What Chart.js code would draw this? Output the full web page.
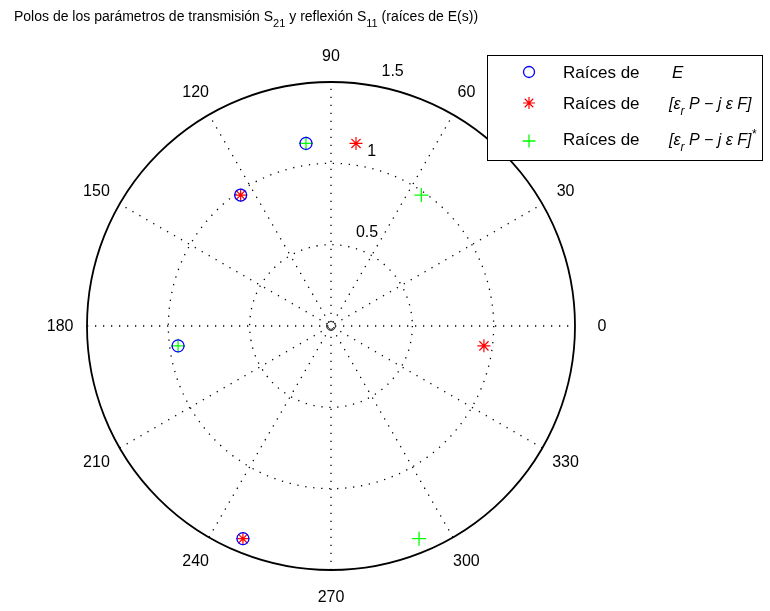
<!DOCTYPE html>
<html>
<head>
<meta charset="utf-8">
<script src="https://cdn.jsdelivr.net/npm/chart.js@4/dist/chart.umd.min.js"></script>
<style>
  html, body { margin: 0; padding: 0; background: #ffffff; }
  #wrap { width: 770px; height: 611px; }
</style>
</head>
<body>
<div id="wrap"><canvas id="c" width="770" height="611"></canvas></div>
<script>
// Roots in polar form: modulus and angle in degrees
const rootsE_mod   = [1.133, 0.978, 0.948, 1.415];
const rootsE_ang   = [97.8, 124.6, 187.4, 247.5];
const rootsPF_mod  = [1.133, 0.978, 0.948, 1.415];
const rootsPF_ang  = [82.2, 124.6, 352.6, 247.5];
const rootsPFc_mod = [1.133, 0.978, 0.948, 1.415];
const rootsPFc_ang = [97.8, 55.4, 187.4, 292.5];
const origin_mod   = [0];
const origin_ang   = [0];

// Polar grid
const rMax = 1.5;
const ringValues = [0.5, 1, 1.5];
const ringLabels = ['0.5', '1', '1.5'];
const spokeAngles = [0, 30, 60, 90, 120, 150, 180, 210, 240, 270, 300, 330];
const spokeLabels = ['0', '30', '60', '90', '120', '150', '180', '210', '240', '270', '300', '330'];

const FONT = '"Liberation Sans", Arial, Helvetica, sans-serif';

function toXY(mods, angs) {
  return mods.map((r, i) => {
    const t = angs[i] * Math.PI / 180;
    return { x: r * Math.cos(t), y: r * Math.sin(t) };
  });
}

// Draws a run of text pieces (normal / italic / subscript / superscript)
function drawRich(ctx, x, y, pieces, size) {
  let cx = x;
  for (const p of pieces) {
    if (p.at !== undefined) cx = p.at;
    const base = p.size || size;
    const fs = (p.sub || p.sup) ? Math.round(base * 0.75) : base;
    ctx.font = (p.it ? 'italic ' : '') + fs + 'px ' + FONT;
    const dy = p.sub ? base * 0.4 : (p.sup ? -base * 0.42 : 0);
    ctx.fillText(p.t, cx, y + dy);
    cx += ctx.measureText(p.t).width;
  }
  return cx;
}

const polarGrid = {
  id: 'polarGrid',
  beforeDraw(chart) {
    const ctx = chart.ctx;
    ctx.save();
    ctx.fillStyle = '#ffffff';
    ctx.fillRect(0, 0, chart.width, chart.height);
    ctx.restore();
  },
  beforeDatasetsDraw(chart) {
    const ctx = chart.ctx;
    const xs = chart.scales.x, ys = chart.scales.y;
    const px = v => xs.getPixelForValue(v);
    const py = v => ys.getPixelForValue(v);
    const cx = px(0), cy = py(0);
    ctx.save();

    // dotted inner rings
    ctx.strokeStyle = '#000000';
    ctx.lineWidth = 1.3;
    ctx.setLineDash([1.3, 6.7]);
    for (const r of ringValues) {
      if (r >= rMax) continue;
      ctx.beginPath();
      ctx.arc(cx, cy, px(r) - cx, 0, Math.PI * 2);
      ctx.stroke();
    }
    // dotted spokes across the full diameter
    for (let a = 0; a < 180; a += 30) {
      const t = a * Math.PI / 180;
      ctx.beginPath();
      ctx.moveTo(px(-rMax * Math.cos(t)), py(-rMax * Math.sin(t)));
      ctx.lineTo(px(rMax * Math.cos(t)), py(rMax * Math.sin(t)));
      ctx.stroke();
    }
    // solid outer circle
    ctx.setLineDash([]);
    ctx.strokeStyle = '#000000';
    ctx.lineWidth = 1.8;
    ctx.beginPath();
    ctx.arc(cx, cy, px(rMax) - cx, 0, Math.PI * 2);
    ctx.stroke();

    // angle labels
    ctx.fillStyle = '#000000';
    ctx.font = '16px ' + FONT;
    ctx.textAlign = 'center';
    ctx.textBaseline = 'middle';
    spokeAngles.forEach((a, i) => {
      const t = a * Math.PI / 180;
      const rr = rMax * 1.11;
      ctx.fillText(spokeLabels[i], px(rr * Math.cos(t)), py(rr * Math.sin(t)) + 1);
    });

    // ring labels along the 82 degree direction
    ctx.textAlign = 'left';
    ctx.textBaseline = 'bottom';
    const t82 = 82 * Math.PI / 180;
    ringValues.forEach((r, i) => {
      const rr = r + 0.025;
      const dx = i === 2 ? 16 : 13;
      ctx.fillText(ringLabels[i], px(rr * Math.cos(t82)) + dx, py(rr * Math.sin(t82)) - 1);
    });
    ctx.restore();
  },
  afterDraw(chart) {
    const ctx = chart.ctx;
    ctx.save();
    // title
    ctx.fillStyle = '#000000';
    ctx.textAlign = 'left';
    ctx.textBaseline = 'alphabetic';
    drawRich(ctx, 14, 21, [
      { t: 'Polos de los parámetros de transmisión S' },
      { t: '21', sub: true },
      { t: ' y reflexión S' },
      { t: '11', sub: true },
      { t: ' (raíces de E(s))' }
    ], 14);

    // legend box
    const bx = 487.5, by = 55.5, bw = 275, bh = 105;
    ctx.fillStyle = '#ffffff';
    ctx.fillRect(bx, by, bw, bh);
    ctx.strokeStyle = '#000000';
    ctx.lineWidth = 1;
    ctx.strokeRect(bx, by, bw, bh);

    const ds = chart.data.datasets;
    const IX = 669;
    const rows = [
      { d: 0, my: 72, ty: 78, pieces: [{ t: 'Raíces de' }, { t: 'E', it: true, at: IX + 3, size: 17 }] },
      { d: 1, my: 103, ty: 109, pieces: [{ t: 'Raíces de' }, { t: '[ε', it: true, at: IX, size: 16 }, { t: 'r', it: true, sub: true, size: 16 }, { t: ' P − j ε F]', it: true, size: 16 }] },
      { d: 2, my: 141, ty: 145, pieces: [{ t: 'Raíces de' }, { t: '[ε', it: true, at: IX, size: 16 }, { t: 'r', it: true, sub: true, size: 16 }, { t: ' P − j ε F]', it: true, size: 16 }, { t: '*', it: true, sup: true, size: 16 }] }
    ];
    for (const row of rows) {
      const d = ds[row.d];
      ctx.strokeStyle = d.borderColor;
      ctx.fillStyle = 'rgba(0,0,0,0)';
      ctx.lineWidth = d.borderWidth;
      Chart.helpers.drawPoint(ctx, { pointStyle: d.pointStyle, radius: d.pointRadius - 0.5, borderWidth: d.borderWidth, rotation: 0 }, 529, row.my);
      ctx.fillStyle = '#000000';
      drawRich(ctx, 563, row.ty, row.pieces, 17);
    }
    ctx.restore();
  }
};

new Chart(document.getElementById('c'), {
  type: 'scatter',
  data: {
    datasets: [
      {
        label: 'Raíces de E',
        data: toXY(rootsE_mod, rootsE_ang),
        pointStyle: 'circle', pointRadius: 6, borderWidth: 1.3,
        borderColor: '#0000ff', backgroundColor: 'rgba(0,0,0,0)'
      },
      {
        label: 'Raíces de [εr P − j ε F]',
        data: toXY(rootsPF_mod, rootsPF_ang),
        pointStyle: 'star', pointRadius: 6.5, borderWidth: 1.2,
        borderColor: '#ff0000', backgroundColor: 'rgba(0,0,0,0)'
      },
      {
        label: 'Raíces de [εr P − j ε F]*',
        data: toXY(rootsPFc_mod, rootsPFc_ang),
        pointStyle: 'cross', pointRadius: 7, borderWidth: 1.3,
        borderColor: '#00ff00', backgroundColor: 'rgba(0,0,0,0)'
      },
      {
        label: 'origen',
        data: toXY(origin_mod, origin_ang),
        pointStyle: 'circle', pointRadius: 4.5, borderWidth: 1,
        borderColor: '#333333', backgroundColor: 'rgba(0,0,0,0)'
      }
    ]
  },
  options: {
    responsive: false,
    animation: false,
    layout: { padding: { left: 87, right: 195, top: 82, bottom: 41 } },
    scales: {
      x: { type: 'linear', min: -rMax, max: rMax, display: false },
      y: { type: 'linear', min: -rMax, max: rMax, display: false }
    },
    plugins: {
      legend: { display: false },
      title: { display: false },
      tooltip: { enabled: false }
    },
    events: []
  },
  plugins: [polarGrid]
});
</script>
</body>
</html>
